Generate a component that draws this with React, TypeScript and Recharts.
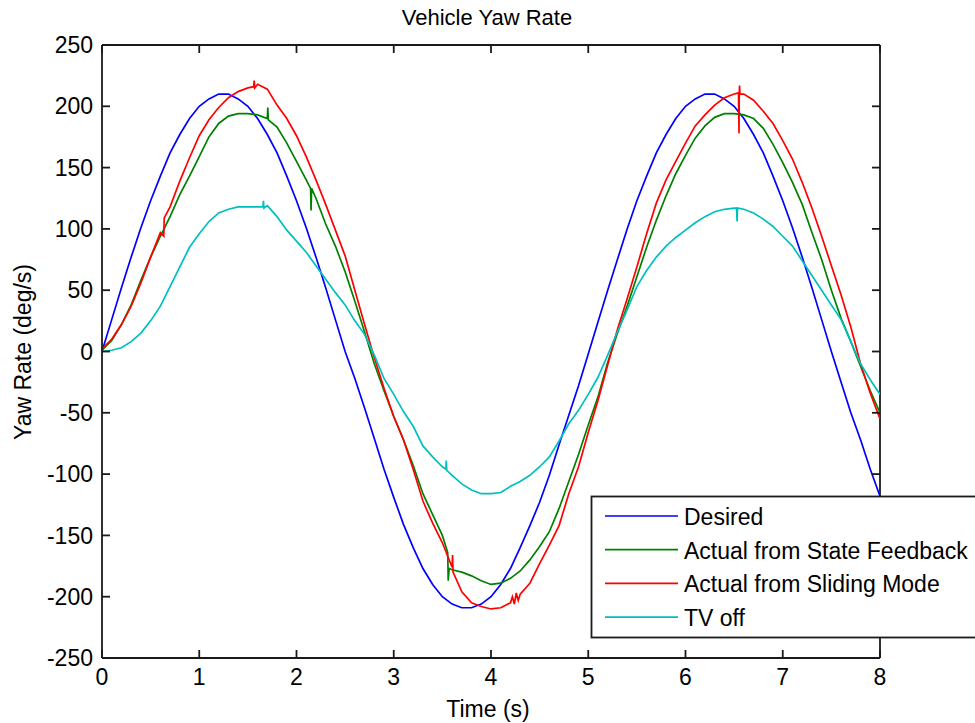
import React from 'react'
import { LineChart, Line, XAxis, YAxis, ReferenceLine } from 'recharts'

// sample times (s) for the main series
const TIME = [
  0, 0.1, 0.2, 0.3, 0.4, 0.5, 0.6, 0.7, 0.8, 0.9,
  1, 1.1, 1.2, 1.3, 1.4, 1.5, 1.6, 1.7, 1.8, 1.9,
  2, 2.1, 2.2, 2.3, 2.4, 2.5, 2.6, 2.7, 2.8, 2.9,
  3, 3.1, 3.2, 3.3, 3.4, 3.5, 3.6, 3.7, 3.8, 3.9,
  4, 4.1, 4.2, 4.3, 4.4, 4.5, 4.6, 4.7, 4.8, 4.9,
  5, 5.1, 5.2, 5.3, 5.4, 5.5, 5.6, 5.7, 5.8, 5.9,
  6, 6.1, 6.2, 6.3, 6.4, 6.5, 6.6, 6.7, 6.8, 6.9,
  7, 7.1, 7.2, 7.3, 7.4, 7.5, 7.6, 7.7, 7.8, 7.9,
  8,
]

const DESIRED = [
  0, 26, 52, 77, 101, 123, 143, 162, 177, 190,
  200, 206, 210, 210, 206, 200, 190, 177, 162, 143,
  123, 101, 77, 52, 26, 0, -22, -46, -71, -96,
  -119, -141, -160, -177, -190, -200, -206, -209, -209, -206,
  -200, -190, -177, -160, -142, -123, -101, -76, -52, -28,
  -2, 24, 50, 75, 100, 123, 143, 162, 177, 190,
  200, 206, 210, 210, 206, 200, 190, 177, 162, 143,
  123, 101, 77, 52, 26, 0, -25, -50, -72, -96,
  -118,
]

const STATE_FEEDBACK = [
  1, 9, 22, 38, 58, 77, 94, 110, 128, 143,
  159, 175, 186, 192, 194, 194, 193, 190, 183, 170,
  155, 140, 125, 104, 86, 65, 41, 16, -10, -32,
  -53, -72, -93, -116, -133, -150, -178, -180, -183, -187,
  -190, -189, -185, -179, -170, -159, -147, -128, -106, -84,
  -60, -37, -9, 15, 37, 61, 85, 107, 127, 145,
  160, 174, 184, 191, 194, 194, 193, 190, 182, 169,
  154, 138, 120, 97, 75, 50, 27, 8, -12, -32,
  -50,
]

const SLIDING_MODE = [
  2, 10, 22, 37, 56, 77, 97, 118, 139, 158,
  176, 189, 199, 207, 212, 215, 218, 214, 201, 190,
  176, 159, 140, 120, 99, 78, 50, 22, -5, -30,
  -53, -72, -96, -122, -140, -156, -176, -196, -205, -208,
  -210, -209, -205, -198, -189, -173, -158, -142, -116, -94,
  -66, -40, -11, 18, 43, 69, 96, 121, 140, 155,
  170, 184, 193, 201, 207, 210, 210, 205, 196, 186,
  172, 157, 138, 117, 94, 70, 46, 20, -10, -34,
  -55,
]

const TV_OFF = [
  0, 1, 3, 8, 15, 25, 37, 53, 69, 85,
  96, 106, 113, 116, 118, 118, 118, 119, 110, 99,
  90, 81, 70, 59, 48, 38, 25, 14, -3, -22,
  -35, -49, -61, -77, -86, -94, -101, -108, -113, -116,
  -116, -115, -110, -106, -101, -94, -86, -73, -59, -48,
  -35, -21, -3, 16, 34, 53, 66, 77, 86, 93,
  99, 105, 110, 114, 116, 117, 116, 113, 108, 102,
  94, 86, 74, 62, 50, 38, 26, 8, -10, -23,
  -35,
]

// short glitches in the measured signals, [time, value]
const SF_SPIKES: [number, number][] = [
  [1.705, 199], [1.71, 189],
  [2.145, 133], [2.15, 115], [2.155, 133],
  [3.555, -164], [3.56, -187], [3.57, -177],
]
const SM_SPIKES: [number, number][] = [
  [0.635, 94], [0.64, 109],
  [1.56, 216], [1.565, 221], [1.57, 215],
  [3.605, -166], [3.61, -180],
  [4.22, -200], [4.24, -206], [4.26, -197], [4.28, -203],
  [6.545, 211], [6.55, 178], [6.553, 211], [6.556, 217], [6.56, 210],
]
const TV_SPIKES: [number, number][] = [
  [1.655, 118], [1.66, 123], [1.665, 117],
  [3.535, -96], [3.54, -89], [3.545, -97],
  [6.525, 117], [6.53, 106], [6.535, 117],
]

const X_TICKS = [0, 1, 2, 3, 4, 5, 6, 7, 8]
const Y_TICKS = [-250, -200, -150, -100, -50, 0, 50, 100, 150, 200, 250]
const X_DOMAIN: [number, number] = [0, 8]
const Y_DOMAIN: [number, number] = [-250, 250]

const toPoints = (values: number[], spikes: [number, number][] = []) =>
  [
    ...values.map((v, i) => ({ t: TIME[i], v })),
    ...spikes.map(([t, v]) => ({ t, v })),
  ].sort((a, b) => a.t - b.t)

const SERIES = [
  { name: 'Desired', color: '#0000ff', data: toPoints(DESIRED) },
  { name: 'Actual from State Feedback', color: '#008000', data: toPoints(STATE_FEEDBACK, SF_SPIKES) },
  { name: 'Actual from Sliding Mode', color: '#ff0000', data: toPoints(SLIDING_MODE, SM_SPIKES) },
  { name: 'TV off', color: '#00bfbf', data: toPoints(TV_OFF, TV_SPIKES) },
]

const W = 975
const H = 723
const MARGIN = { top: 45, right: 95, bottom: 0, left: 0 }
const Y_AXIS_W = 102
const X_AXIS_H = 65
const PLOT_L = MARGIN.left + Y_AXIS_W
const PLOT_T = MARGIN.top
const PLOT_W = W - MARGIN.right - PLOT_L
const PLOT_H = H - PLOT_T - X_AXIS_H
const TICK_LEN = 8
const AXIS = '#1a1a1a'
const AXIS_W = 1.8
const LINE_W = 1.7
const FONT = '"Liberation Sans", Arial, Helvetica, sans-serif'
const tickStyle = { fill: '#000', fontSize: 23, fontFamily: FONT }

// pixel position of a tick inside the box (for the inward tick marks)
const tickX = (t: number) => PLOT_L + ((t - X_DOMAIN[0]) / (X_DOMAIN[1] - X_DOMAIN[0])) * PLOT_W
const tickY = (v: number) => PLOT_T + ((Y_DOMAIN[1] - v) / (Y_DOMAIN[1] - Y_DOMAIN[0])) * PLOT_H

export default function App() {
  return (
    <div style={{ position: 'absolute', left: 0, top: 0, width: W, height: H, background: '#fff' }}>
      <LineChart width={W} height={H} margin={MARGIN}>
        <XAxis
          xAxisId="x"
          dataKey="t"
          type="number"
          domain={X_DOMAIN}
          ticks={X_TICKS}
          interval={0}
          allowDataOverflow
          height={X_AXIS_H}
          tickSize={0}
          tickMargin={11}
          tickLine={false}
          axisLine={{ stroke: AXIS, strokeWidth: AXIS_W }}
          tick={tickStyle}
        />
        <YAxis
          yAxisId="y"
          type="number"
          domain={Y_DOMAIN}
          ticks={Y_TICKS}
          interval={0}
          allowDataOverflow
          width={Y_AXIS_W}
          tickSize={0}
          tickMargin={9}
          tickLine={false}
          axisLine={{ stroke: AXIS, strokeWidth: AXIS_W }}
          tick={tickStyle}
        />

        {/* box: top and right edges */}
        <ReferenceLine xAxisId="x" yAxisId="y" y={Y_DOMAIN[1]} stroke={AXIS} strokeWidth={AXIS_W} />
        <ReferenceLine xAxisId="x" yAxisId="y" x={X_DOMAIN[1]} stroke={AXIS} strokeWidth={AXIS_W} />

        {SERIES.map((s) => (
          <Line
            key={s.name}
            xAxisId="x"
            yAxisId="y"
            data={s.data}
            dataKey="v"
            name={s.name}
            type="linear"
            stroke={s.color}
            strokeWidth={LINE_W}
            dot={false}
            activeDot={false}
            isAnimationActive={false}
          />
        ))}
      </LineChart>

      {/* inward ticks, title, axis labels and legend box on top of the plot */}
      <svg
        width={W}
        height={H}
        style={{ position: 'absolute', left: 0, top: 0, pointerEvents: 'none' }}
        fontFamily={FONT}
      >
        <g stroke={AXIS} strokeWidth={AXIS_W}>
          {X_TICKS.map((t) => (
            <g key={`xt${t}`}>
              <line x1={tickX(t)} x2={tickX(t)} y1={PLOT_T + PLOT_H} y2={PLOT_T + PLOT_H - TICK_LEN} />
              <line x1={tickX(t)} x2={tickX(t)} y1={PLOT_T} y2={PLOT_T + TICK_LEN} />
            </g>
          ))}
          {Y_TICKS.map((v) => (
            <g key={`yt${v}`}>
              <line x1={PLOT_L} x2={PLOT_L + TICK_LEN} y1={tickY(v)} y2={tickY(v)} />
              <line x1={PLOT_L + PLOT_W} x2={PLOT_L + PLOT_W - TICK_LEN} y1={tickY(v)} y2={tickY(v)} />
            </g>
          ))}
        </g>
        <text x={487} y={17} textAnchor="middle" dominantBaseline="central" fontSize={22} fill="#000">
          Vehicle Yaw Rate
        </text>
        <text x={488} y={709} textAnchor="middle" dominantBaseline="central" fontSize={23} fill="#000">
          Time (s)
        </text>
        <text
          x={0}
          y={0}
          transform="translate(23,352) rotate(-90)"
          textAnchor="middle"
          dominantBaseline="central"
          fontSize={23}
          fill="#000"
        >
          Yaw Rate (deg/s)
        </text>
        <rect x={591.5} y={496.5} width={420} height={141} fill="#fff" stroke={AXIS} strokeWidth={AXIS_W} />
        {SERIES.map((s, i) => {
          const y = 516 + i * 33.7
          return (
            <g key={s.name}>
              <line x1={605} x2={678} y1={y} y2={y} stroke={s.color} strokeWidth={LINE_W} />
              <text x={684} y={y + 1} dominantBaseline="central" fontSize={23} fill="#000">
                {s.name}
              </text>
            </g>
          )
        })}
      </svg>
    </div>
  )
}
